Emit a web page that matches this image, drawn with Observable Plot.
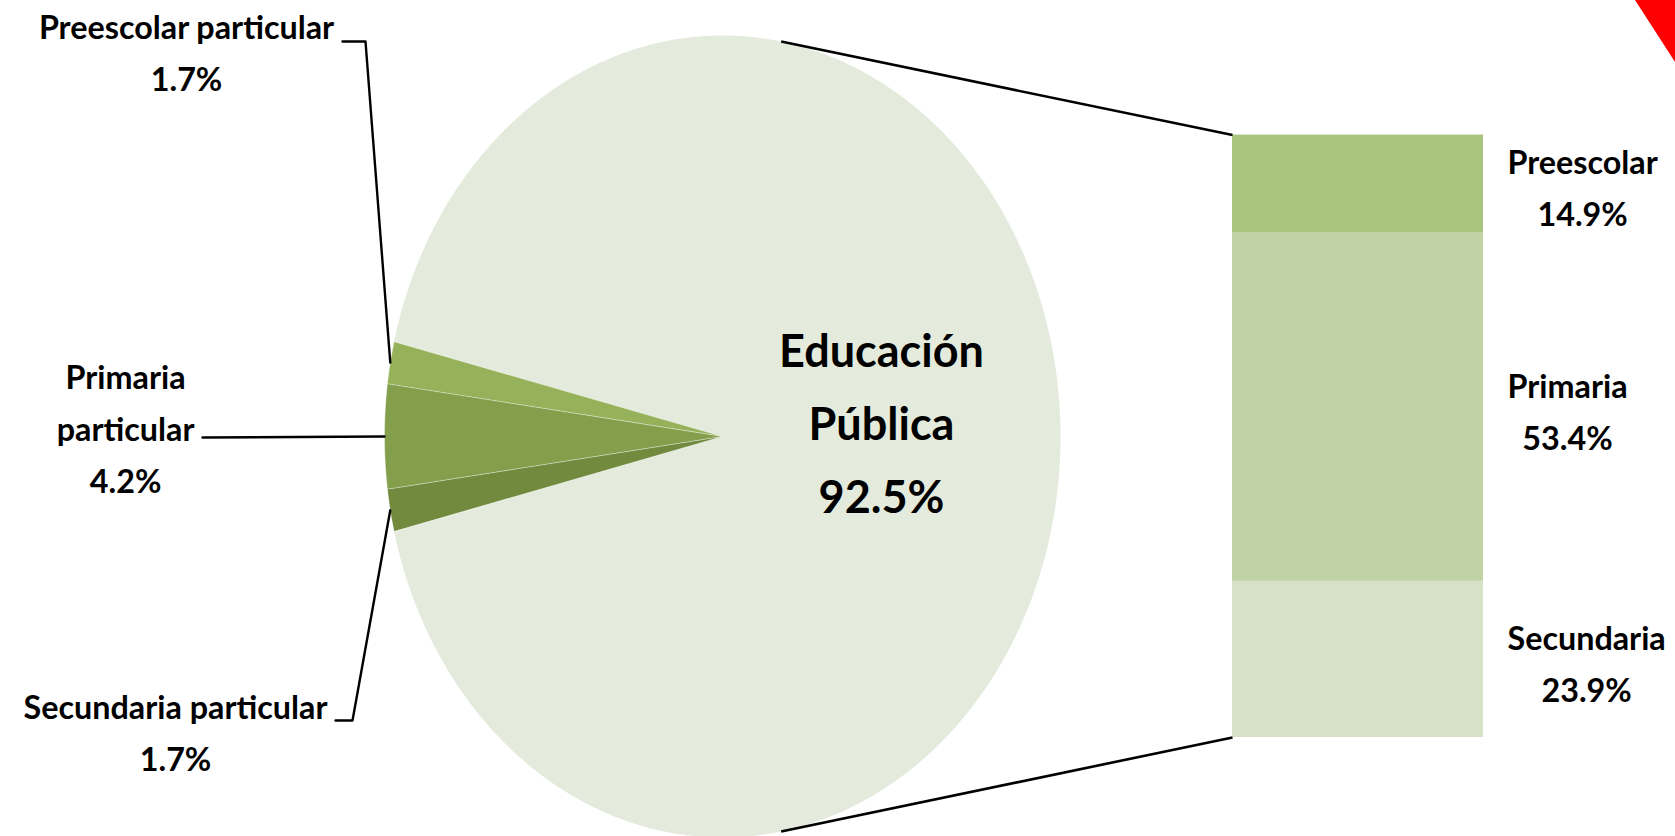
<!DOCTYPE html>
<html><head><meta charset="utf-8">
<script src="https://cdn.jsdelivr.net/npm/d3@7"></script>
<script src="https://cdn.jsdelivr.net/npm/@observablehq/plot@0.6"></script>
<style>
html,body{margin:0;padding:0;background:#fff;}
#wrap{position:relative;width:1675px;height:836px;overflow:hidden;background:#fff;}
#corner{position:absolute;right:0;top:0;width:40px;height:62px;background:#ff0000;clip-path:polygon(0 0,100% 0,100% 100%);}
</style></head>
<body><div id="wrap"><div id="chart"></div><div id="corner"></div></div>
<script>
// ---- data ----
const pieLabels = ["Educación Pública", "Preescolar particular", "Primaria particular", "Secundaria particular"];
const pieValues = [92.5, 1.7, 4.2, 1.7];
const pieColors = ["#E4EBDC", "#95B159", "#839F4C", "#718A3E"];
const barLabels = ["Preescolar", "Primaria", "Secundaria"];
const barValues = [14.9, 53.4, 23.9];
const barColors = ["#A9C47C", "#C1D3A5", "#D6E1C5"];

// ---- layout (pixels) ----
const L = {
  W: 1675, H: 836,
  cx: 722, cy: 436, rx: 338, ry: 401,
  barX1: 1232, barX2: 1483, barTop: 134.6, barBottom: 737,
  connectorAngle: 80,
  font: "Lato, 'Noto Sans', sans-serif",
  labelFitText: "Preescolar particular", labelFitWidth: 296,
  bigFitText: "Educación", bigFitWidth: 205,
  labelLH: 52, bigLH: 73,
  leaders: [
    {elbow: [365, 41], end: [342, 41], textY: 47.4},
    {elbow: null, end: [202, 437], textY: 424},
    {elbow: [352, 720], end: [335, 720], textY: 728}
  ],
  leaderGap: 8,
  rightGap: 24,
  publicLabel: [881, 416.6]
};
const ux = px => (px - L.cx) / L.rx;
const vy = py => (L.cy - py) / L.ry;

const ctx = document.createElement("canvas").getContext("2d");
function measure(text, size) {
  ctx.font = `bold ${size}px ${L.font}`;
  return d3.max(text.split("\n"), s => ctx.measureText(s).width);
}
const labelSize = Math.round(10 * L.labelFitWidth / measure(L.labelFitText, 100) * 100) / 10;
const bigSize = Math.round(10 * L.bigFitWidth / measure(L.bigFitText, 100) * 100) / 10;
const fmt = v => v.toFixed(1) + "%";

// ---- pie geometry ----
const total = d3.sum(pieValues);
const smallSum = d3.sum(pieValues.slice(1));
let ang = 180 - smallSum / total * 180;
const slices = [1, 2, 3, 0].map(i => {
  const s = ang, e = ang + pieValues[i] / total * 360;
  ang = e;
  return {i, name: pieLabels[i], s, e, mid: (s + e) / 2};
});
function arcPoly(s, e) {
  const pts = [{u: 0, v: 0}];
  const n = Math.max(2, Math.ceil((e - s) / 0.5));
  for (let k = 0; k <= n; k++) {
    const t = (s + (e - s) * k / n) * Math.PI / 180;
    pts.push({u: Math.cos(t), v: Math.sin(t)});
  }
  return pts;
}
const rad = d => d * Math.PI / 180;

// ---- bar ----
const barSum = d3.sum(barValues);
const bTop = vy(L.barTop), bBot = vy(L.barBottom);
let cum = 0;
const barSegs = barValues.map((v, i) => {
  const y1 = bTop - (bTop - bBot) * cum / barSum;
  cum += v;
  const y2 = bTop - (bTop - bBot) * cum / barSum;
  return {name: barLabels[i], value: v, color: barColors[i], x1: ux(L.barX1), x2: ux(L.barX2), y1, y2};
});

// ---- connectors ----
const ca = rad(L.connectorAngle);
const connectors = [
  {x1: Math.cos(ca), y1: Math.sin(ca), x2: ux(L.barX1), y2: bTop},
  {x1: Math.cos(-ca), y1: Math.sin(-ca), x2: ux(L.barX1), y2: bBot}
];

// ---- leaders & labels for small slices ----
const smallSlices = slices.filter(s => s.i !== 0);
const leaderPts = [];
const leftLabels = [];
smallSlices.forEach((s, k) => {
  const cfg = L.leaders[k];
  const m = rad(s.mid);
  leaderPts.push({name: s.name, u: Math.cos(m), v: Math.sin(m)});
  if (cfg.elbow) leaderPts.push({name: s.name, u: ux(cfg.elbow[0]), v: vy(cfg.elbow[1])});
  leaderPts.push({name: s.name, u: ux(cfg.end[0]), v: vy(cfg.end[1])});
  const text = (s.i === 2 ? "Primaria\nparticular" : s.name) + "\n" + fmt(pieValues[s.i]);
  const w = measure(text, labelSize);
  leftLabels.push({text, x: ux(cfg.end[0] - L.leaderGap - w / 2), y: vy(cfg.textY)});
});

const rightLabels = barSegs.map(b => {
  const text = b.name + "\n" + fmt(b.value);
  const w = measure(text, labelSize);
  return {text, x: ux(L.barX2 + L.rightGap + w / 2), y: (b.y1 + b.y2) / 2};
});

const publicLabel = [{text: "Educación\nPública\n" + fmt(pieValues[0]), x: ux(L.publicLabel[0]), y: vy(L.publicLabel[1])}];

const textCommon = {x: "x", y: "y", text: "text", fontWeight: "bold", fontFamily: L.font, fill: "#000", textAnchor: "middle"};

const marks = [];
[...slices].sort((a, b) => (a.i === 0 ? -1 : 0) - (b.i === 0 ? -1 : 0)).forEach(s => {
  marks.push(Plot.line(arcPoly(s.s, s.e), {
    x: "u", y: "v", curve: "linear-closed", fill: pieColors[s.i],
    stroke: s.i === 0 ? "none" : "#ffffff", strokeOpacity: 0.45, strokeWidth: 0.8
  }));
});
marks.push(Plot.rect(barSegs, {x1: "x1", x2: "x2", y1: "y1", y2: "y2", fill: "color"}));
marks.push(Plot.link(connectors, {x1: "x1", y1: "y1", x2: "x2", y2: "y2", stroke: "#000", strokeWidth: 2.6}));
marks.push(Plot.line(leaderPts, {x: "u", y: "v", z: "name", stroke: "#000", strokeWidth: 2.4}));
marks.push(Plot.text(leftLabels, {...textCommon, fontSize: labelSize, lineHeight: L.labelLH / labelSize}));
marks.push(Plot.text(rightLabels, {...textCommon, fontSize: labelSize, lineHeight: L.labelLH / labelSize}));
marks.push(Plot.text(publicLabel, {...textCommon, fontSize: bigSize, lineHeight: L.bigLH / bigSize}));

const chart = Plot.plot({
  width: L.W, height: L.H,
  margin: 0,
  style: {background: "#fff", overflow: "visible"},
  x: {domain: [ux(0), ux(L.W)], axis: null},
  y: {domain: [vy(L.H), vy(0)], axis: null},
  color: {type: "identity"},
  marks
});
document.getElementById("chart").appendChild(chart);
</script>
</body></html>
